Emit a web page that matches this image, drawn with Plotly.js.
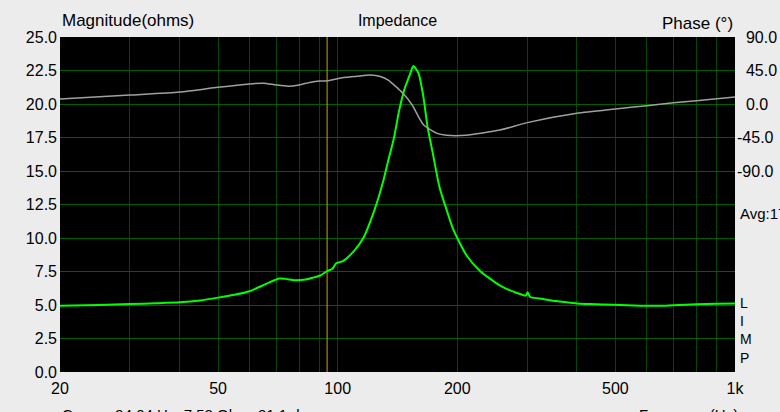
<!DOCTYPE html>
<html>
<head>
<meta charset="utf-8">
<script src="https://cdn.plot.ly/plotly-3.0.1.min.js"></script>
<style>html,body{margin:0;padding:0;background:#ececec;overflow:hidden}</style>
</head>
<body>
<div id="chart" style="width:780px;height:412px"></div>
<script>
// Impedance magnitude (ohms) vs frequency (Hz)
const magFreq = [20, 25, 30, 35, 40, 45, 50, 55, 60, 66.3, 71.3, 74, 78, 83, 87, 90.4, 94.04, 97, 99, 103, 109.7, 116, 123.8, 129.8, 134.1, 138.5, 142.9, 147.6, 152.4, 155, 159.7, 164.4, 168.3, 173.6, 180.2, 188, 195.6, 211.5, 228.6, 257.9, 282.6, 297.9, 300.5, 305, 322, 354, 401, 432, 496, 578, 650, 700, 800, 900, 1000];
const magOhm  = [4.95, 5.0, 5.07, 5.13, 5.2, 5.34, 5.55, 5.77, 6.03, 6.6, 6.98, 6.95, 6.85, 6.9, 7.05, 7.2, 7.53, 7.7, 8.1, 8.27, 9.0, 10.0, 12.1, 14.1, 15.8, 17.45, 19.56, 21.2, 22.3, 22.84, 22.3, 20.5, 18.3, 16.3, 13.85, 12.1, 10.6, 8.66, 7.52, 6.4, 5.9, 5.71, 5.96, 5.6, 5.49, 5.29, 5.12, 5.07, 5.02, 4.95, 4.94, 4.99, 5.05, 5.09, 5.12];

// Impedance phase (degrees) vs frequency (Hz)
const phaseFreq = [20, 30, 40, 50, 60, 65, 70, 75, 80, 85, 90, 94.04, 101, 110, 121, 128, 134, 146, 154, 164.4, 177.8, 188, 210, 256, 300, 400, 500, 600, 700, 800, 900, 1000];
const phaseDeg  = [6.7, 12, 16, 22.5, 27, 28, 25.6, 24, 25.6, 29, 31, 31.1, 34.6, 36.8, 39, 37, 32, 14.4, -1.4, -28, -39.5, -42, -42, -35, -25, -12.5, -6.7, -2.2, 1.8, 4.5, 7, 9.4];

// Cursor readout
const cursorFreq = 94.04, cursorMag = 7.53, cursorPhase = 31.1;

// Axis ticks
const xGridVals = [20, 30, 40, 50, 60, 70, 80, 90, 100, 200, 300, 400, 500, 600, 700, 800, 900, 1000];
const xLabelMap = {20: '20', 50: '50', 100: '100', 200: '200', 500: '500', 1000: '1k'};
const magTicks = [0, 2.5, 5, 7.5, 10, 12.5, 15, 17.5, 20, 22.5, 25];
const phaseTicks = [-90, -45, 0, 45, 90];
const phaseTickText = ['-90.0', '-45.0', '\u20070.0', '\u200745.0', '\u200790.0'];
const avgText = 'Avg:17.9';
const sideLetters = ['L', 'I', 'M', 'P'];

const FONT = 'Liberation Sans, Arial, sans-serif';

const traces = [
  {x: [cursorFreq, cursorFreq], y: [magTicks[0], magTicks[magTicks.length - 1]], mode: 'lines',
   line: {color: '#c8a400', width: 1}, yaxis: 'y', hoverinfo: 'skip'},
  {x: magFreq, y: magOhm, mode: 'lines', line: {color: '#00ff00', width: 2, shape: 'spline', smoothing: 0.6}, yaxis: 'y'},
  {x: phaseFreq, y: phaseDeg, mode: 'lines', line: {color: '#a0a0a0', width: 1.5, shape: 'spline', smoothing: 0.6}, yaxis: 'y2'}
];

const W = 675, H = 335; // plot area size in px
const layout = {
  width: 780, height: 412,
  paper_bgcolor: '#ececec', plot_bgcolor: '#000000',
  margin: {l: 60, r: 45, t: 37, b: 40, pad: 0},
  showlegend: false,
  font: {family: FONT, size: 16, color: '#000'},
  title: {text: 'Impedance', xref: 'paper', x: 0.5, xanchor: 'center',
          yref: 'container', y: 1 - 20 / 412, yanchor: 'middle', font: {family: FONT, size: 16, color: '#000'}},
  xaxis: {type: 'log', range: [Math.log10(20), 3], tickmode: 'array', tickvals: xGridVals,
          ticktext: xGridVals.map(v => xLabelMap[v] || ''), showgrid: true, gridcolor: '#004800', gridwidth: 1,
          zeroline: false, showline: false, ticks: '', ticklabelstandoff: 5, fixedrange: true},
  yaxis: {range: [0, 25], tickmode: 'array', tickvals: magTicks, ticktext: magTicks.map(v => v.toFixed(1)),
          showgrid: true, gridcolor: '#006000', gridwidth: 1, zeroline: false, showline: false, ticks: '',
          ticklabelstandoff: 2, fixedrange: true},
  yaxis2: {overlaying: 'y', side: 'right', range: [-360, 90], tickmode: 'array', tickvals: phaseTicks,
           ticktext: phaseTickText, showgrid: false, zeroline: false, showline: false, ticks: '',
           ticklabelstandoff: 1, fixedrange: true},
  annotations: [
    {text: 'Magnitude(ohms)', xref: 'paper', yref: 'paper', x: 0, xanchor: 'left', y: 1 + (37 - 21) / H, yanchor: 'middle', showarrow: false, font: {size: 17}},
    {text: 'Phase (°)', xref: 'paper', yref: 'paper', x: 1, xanchor: 'right', y: 1 + (37 - 23) / H, yanchor: 'middle', showarrow: false, font: {size: 17}},
    {text: avgText, xref: 'paper', yref: 'paper', x: (738 - 60) / W, xanchor: 'left', y: (372 - 213) / H, yanchor: 'middle', showarrow: false, font: {size: 15}},
    {text: sideLetters.join('<br>'), xref: 'paper', yref: 'paper', x: (738 - 60) / W, xanchor: 'left', align: 'left', y: (372 - 330) / H, yanchor: 'middle', showarrow: false, font: {size: 14}},
    {text: 'Cursor: ' + cursorFreq.toFixed(2) + ' Hz, ' + cursorMag.toFixed(2) + ' Ohm, ' + cursorPhase.toFixed(1) + ' deg',
     xref: 'paper', yref: 'paper', x: 0, xanchor: 'left', y: (372 - 414) / H, yanchor: 'middle', showarrow: false, font: {size: 15}},
    {text: 'Frequency(Hz)', xref: 'paper', yref: 'paper', x: (740 - 60) / W, xanchor: 'right', y: (372 - 414) / H, yanchor: 'middle', showarrow: false, font: {size: 15}}
  ]
};

Plotly.newPlot('chart', traces, layout, {displayModeBar: false, staticPlot: true});
</script>
</body>
</html>
